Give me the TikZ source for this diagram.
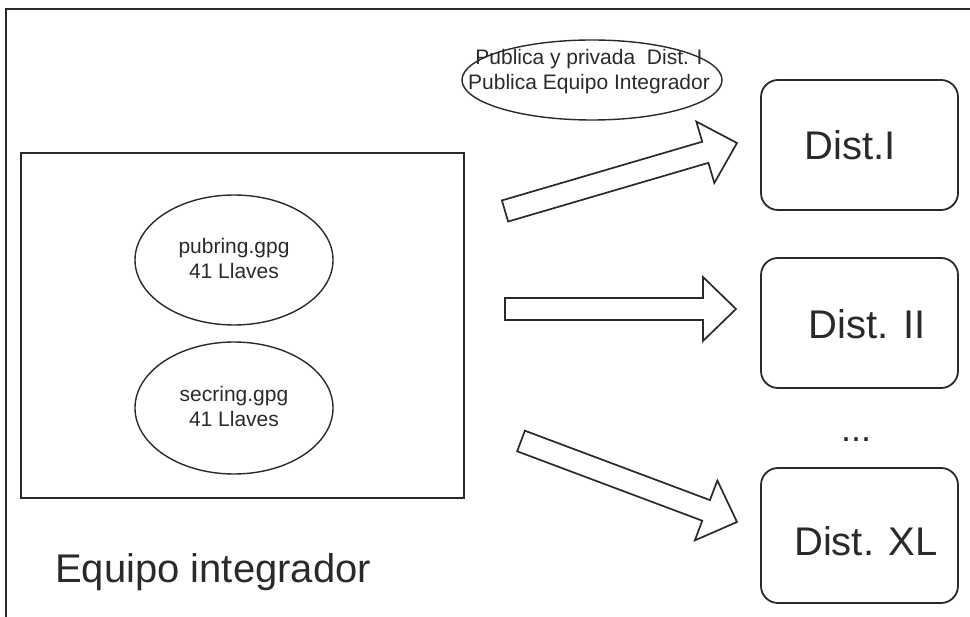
\documentclass[tikz,border=0pt]{standalone}
\usepackage{fontspec}
\setmainfont{Liberation Sans}
\usetikzlibrary{shapes.geometric,calc}
\definecolor{ink}{HTML}{2A2A2A}
\newcommand\blockarrow[2]{%
  \coordinate (hb) at ($(#2)!33pt!(#1)$);
  \draw[blockline] ($(#1)!11pt!90:(#2)$) -- ($(hb)!11pt!90:(#2)$) -- ($(hb)!32pt!90:(#2)$)
    -- (#2) -- ($(hb)!32pt!-90:(#2)$) -- ($(hb)!11pt!-90:(#2)$) -- ($(#1)!11pt!-90:(#2)$) -- cycle;}
\begin{document}
\begin{tikzpicture}[x=1pt,y=-1pt,
  frameline/.style={draw=ink,line width=1.8pt},
  blockline/.style={draw=ink,line width=1.7pt,line join=miter},
  ring/.style={ellipse,draw=ink,line width=1.4pt,inner sep=0pt},
  ringtext/.style={align=center,text=ink,font=\fontsize{21}{25}\selectfont},
  distbox/.style={draw=ink,line width=1.8pt,rounded corners=17pt,minimum width=197pt,inner sep=0pt},
  disttext/.style={text=ink,font=\fontsize{40}{46}\selectfont,inner sep=0pt,anchor=base}]
\useasboundingbox (0,0) rectangle (970,617);
% outer frame (right and bottom edges off page)
\coordinate (fbl) at (6,617);
\coordinate (ftl) at (6,9);
\coordinate (ftr) at (970,9);
\draw[frameline] (fbl) -- (ftl) -- (ftr);
% inner box
\node[frameline,minimum width=443pt,minimum height=345pt,inner sep=0pt] (team) at (242.5,325.5) {};
\node[ring,minimum width=198pt,minimum height=130pt] (pub) at (234,260) {};
\node[ringtext] (pubt) at (234,258) {pubring.gpg\\41 Llaves};
\node[ring,minimum width=198pt,minimum height=132pt] (sec) at (234,408) {};
\node[ringtext] (sect) at (234,406) {secring.gpg\\41 Llaves};
\node[text=ink,font=\fontsize{40}{46}\selectfont,anchor=base west,inner sep=0pt] (eqlabel) at (55,583) {Equipo integrador};
% top ellipse
\node[ring,minimum width=260pt,minimum height=80pt] (keys) at (592,80) {};
\node[ringtext] (keyst) at (589,72) {Publica y privada\ \ Dist. I\\Publica Equipo Integrador};
% dist boxes
\node[distbox,minimum height=130pt] (d1) at (859.5,145) {};
\node[distbox,minimum height=130pt] (d2) at (859.5,323) {};
\node[distbox,minimum height=135pt] (d3) at (859.5,535.5) {};
\node[disttext] (d1t) at (850,160) {Dist.I};
\node[disttext] (d2t) at (867,339) {Dist. II};
\node[disttext] (d3t) at (866,555) {Dist. XL};
\node[text=ink,font=\fontsize{36}{40}\selectfont,inner sep=0pt,anchor=base] (dots) at (856,442) {...};
% block arrows
\coordinate (a1s) at (505,211);
\coordinate (a1e) at (737,143);
\coordinate (a2s) at (505,309);
\coordinate (a2e) at (736,309);
\coordinate (a3s) at (521,441);
\coordinate (a3e) at (737,522);
\blockarrow{a1s}{a1e}
\blockarrow{a2s}{a2e}
\blockarrow{a3s}{a3e}
\end{tikzpicture}
\end{document}
